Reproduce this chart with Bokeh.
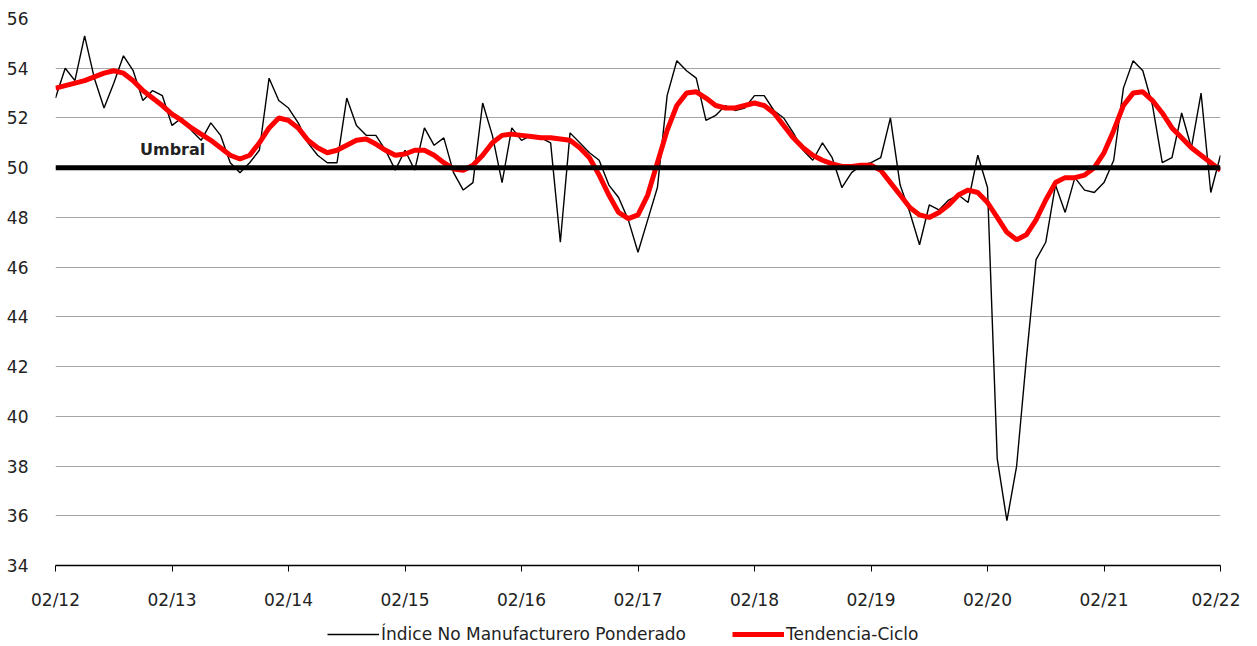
from bokeh.plotting import figure
from bokeh.models import Span, Legend, LegendItem, FixedTicker, Label
from bokeh.layouts import column
from bokeh.embed import file_html
from bokeh.resources import INLINE

tick_months = [0, 12, 24, 36, 48, 60, 72, 84, 96, 108, 120]
tick_labels = ["02/12", "02/13", "02/14", "02/15", "02/16", "02/17", "02/18", "02/19", "02/20", "02/21", "02/22"]

indice = [52.8, 54.0, 53.5, 55.3, 53.6, 52.4, 53.4, 54.5, 53.9, 52.7, 53.1, 52.9,
          51.7, 52.0, 51.5, 51.1, 51.8, 51.3, 50.2, 49.8, 50.2, 50.7, 53.6, 52.7,
          52.4, 51.8, 51.0, 50.5, 50.2, 50.2, 52.8, 51.7, 51.3, 51.3, 50.7, 49.9,
          50.7, 49.9, 51.6, 50.9, 51.2, 49.8, 49.1, 49.4, 52.6, 51.3, 49.4, 51.6,
          51.1, 51.3, 51.2, 51.0, 47.0, 51.4, 51.0, 50.6, 50.3, 49.3, 48.8, 47.9,
          46.6, 47.9, 49.2, 52.9, 54.3, 53.9, 53.6, 51.9, 52.1, 52.5, 52.3, 52.4,
          52.9, 52.9, 52.3, 52.0, 51.4, 50.7, 50.3, 51.0, 50.4, 49.2, 49.8, 50.1,
          50.2, 50.4, 52.0, 49.3, 48.2, 46.9, 48.5, 48.3, 48.7, 48.9, 48.6, 50.5,
          49.2, 38.3, 35.8, 38.0, 42.3, 46.3, 47.0, 49.3, 48.2, 49.6, 49.1, 49.0,
          49.4, 50.3, 53.2, 54.3, 53.9, 52.5, 50.2, 50.4, 52.2, 50.8, 53.0, 49.0,
          50.5]

tendencia = [53.2, 53.3, 53.4, 53.5, 53.65, 53.8, 53.9, 53.8, 53.5, 53.1, 52.8, 52.5,
             52.15, 51.9, 51.6, 51.35, 51.1, 50.8, 50.5, 50.35, 50.5, 51.0, 51.6, 52.0,
             51.9, 51.6, 51.1, 50.8, 50.6, 50.7, 50.9, 51.1, 51.15, 50.95, 50.7, 50.5,
             50.55, 50.7, 50.7, 50.5, 50.2, 49.95, 49.9, 50.1, 50.5, 51.0, 51.3, 51.35,
             51.3, 51.25, 51.2, 51.2, 51.15, 51.1, 50.8, 50.4, 49.7, 48.9, 48.2, 47.95,
             48.1, 48.9, 50.2, 51.5, 52.5, 53.0, 53.05, 52.8, 52.5, 52.4, 52.4, 52.5,
             52.6, 52.5, 52.2, 51.7, 51.2, 50.8, 50.5, 50.3, 50.15, 50.05, 50.05, 50.1,
             50.1, 49.9, 49.4, 48.9, 48.4, 48.1, 48.0, 48.2, 48.5, 48.9, 49.1, 49.0,
             48.6, 48.0, 47.4, 47.1, 47.3, 47.9, 48.7, 49.4, 49.6, 49.6, 49.7, 50.0,
             50.6, 51.5, 52.5, 53.0, 53.05, 52.7, 52.2, 51.6, 51.2, 50.8, 50.5, 50.2,
             49.9]

umbral = 50
months = list(range(len(indice)))
series_names = ["Índice No Manufacturero Ponderado", "Tendencia-Ciclo"]

FONT = "DejaVu Sans"

p = figure(frame_width=1165, frame_height=547, output_backend="svg", toolbar_location=None,
           x_range=(0, 120), y_range=(34, 56),
           min_border_left=55, min_border_right=20, min_border_top=18, min_border_bottom=0)
p.outline_line_color = None
p.background_fill_color = "white"
p.border_fill_color = "white"

p.xgrid.grid_line_color = None
p.ygrid.grid_line_color = "#a6a6a6"
p.ygrid.grid_line_width = 1.2

p.yaxis.ticker = FixedTicker(ticks=list(range(34, 57, 2)))
p.yaxis.axis_line_color = None
p.yaxis.major_tick_line_color = None
p.yaxis.minor_tick_line_color = None
p.yaxis.major_label_standoff = 21
p.yaxis.major_label_text_font = FONT
p.yaxis.major_label_text_font_size = "17px"
p.yaxis.major_label_text_color = "#222222"

p.xaxis.ticker = FixedTicker(ticks=tick_months)
p.xaxis.major_label_overrides = {m: l for m, l in zip(tick_months, tick_labels)}
p.xaxis.axis_line_color = "#000000"
p.xaxis.axis_line_width = 1.5
p.xaxis.major_tick_line_color = "#000000"
p.xaxis.major_tick_in = 0
p.xaxis.major_tick_out = 6
p.xaxis.minor_tick_line_color = None
p.xaxis.major_label_standoff = 18
p.xaxis.major_label_text_font = FONT
p.xaxis.major_label_text_font_size = "17px"
p.xaxis.major_label_text_color = "#222222"

p.add_layout(Span(location=umbral, dimension="width", line_color="#000000", line_width=5))

p.line(months, indice, line_color="#000000", line_width=1.4)
p.line(months, tendencia, line_color="#ff0000", line_width=5)

p.add_layout(Label(x=8.7, y=50.75, text="Umbral", text_font=FONT, text_font_style="bold",
                   text_font_size="16px", text_baseline="middle", text_color="#222222"))

# legend strip below the chart (same series, drawn only as legend swatches)
lg = figure(width=1240, height=40, output_backend="svg", toolbar_location=None,
            x_range=(-10, -9), y_range=(-10, -9),
            x_axis_location=None, y_axis_location=None,
            min_border_left=0, min_border_right=0, min_border_top=0, min_border_bottom=0)
lg.outline_line_color = None
lg.grid.grid_line_color = None
lr1 = lg.line(months, indice, line_color="#000000", line_width=1.4)
lr2 = lg.line(months, tendencia, line_color="#ff0000", line_width=5)

legend = Legend(items=[LegendItem(label=series_names[0], renderers=[lr1]),
                       LegendItem(label=series_names[1], renderers=[lr2])],
                orientation="horizontal", location=(272, 8),
                label_text_font=FONT, label_text_font_size="17px", label_text_color="#222222",
                glyph_width=52, glyph_height=18, label_height=18, spacing=46,
                border_line_color=None, background_fill_alpha=0, padding=0, margin=0,
                label_standoff=2)
lg.add_layout(legend, "center")

layout = column(p, lg, spacing=0)
open("out.html", "w").write(file_html(layout, INLINE))
